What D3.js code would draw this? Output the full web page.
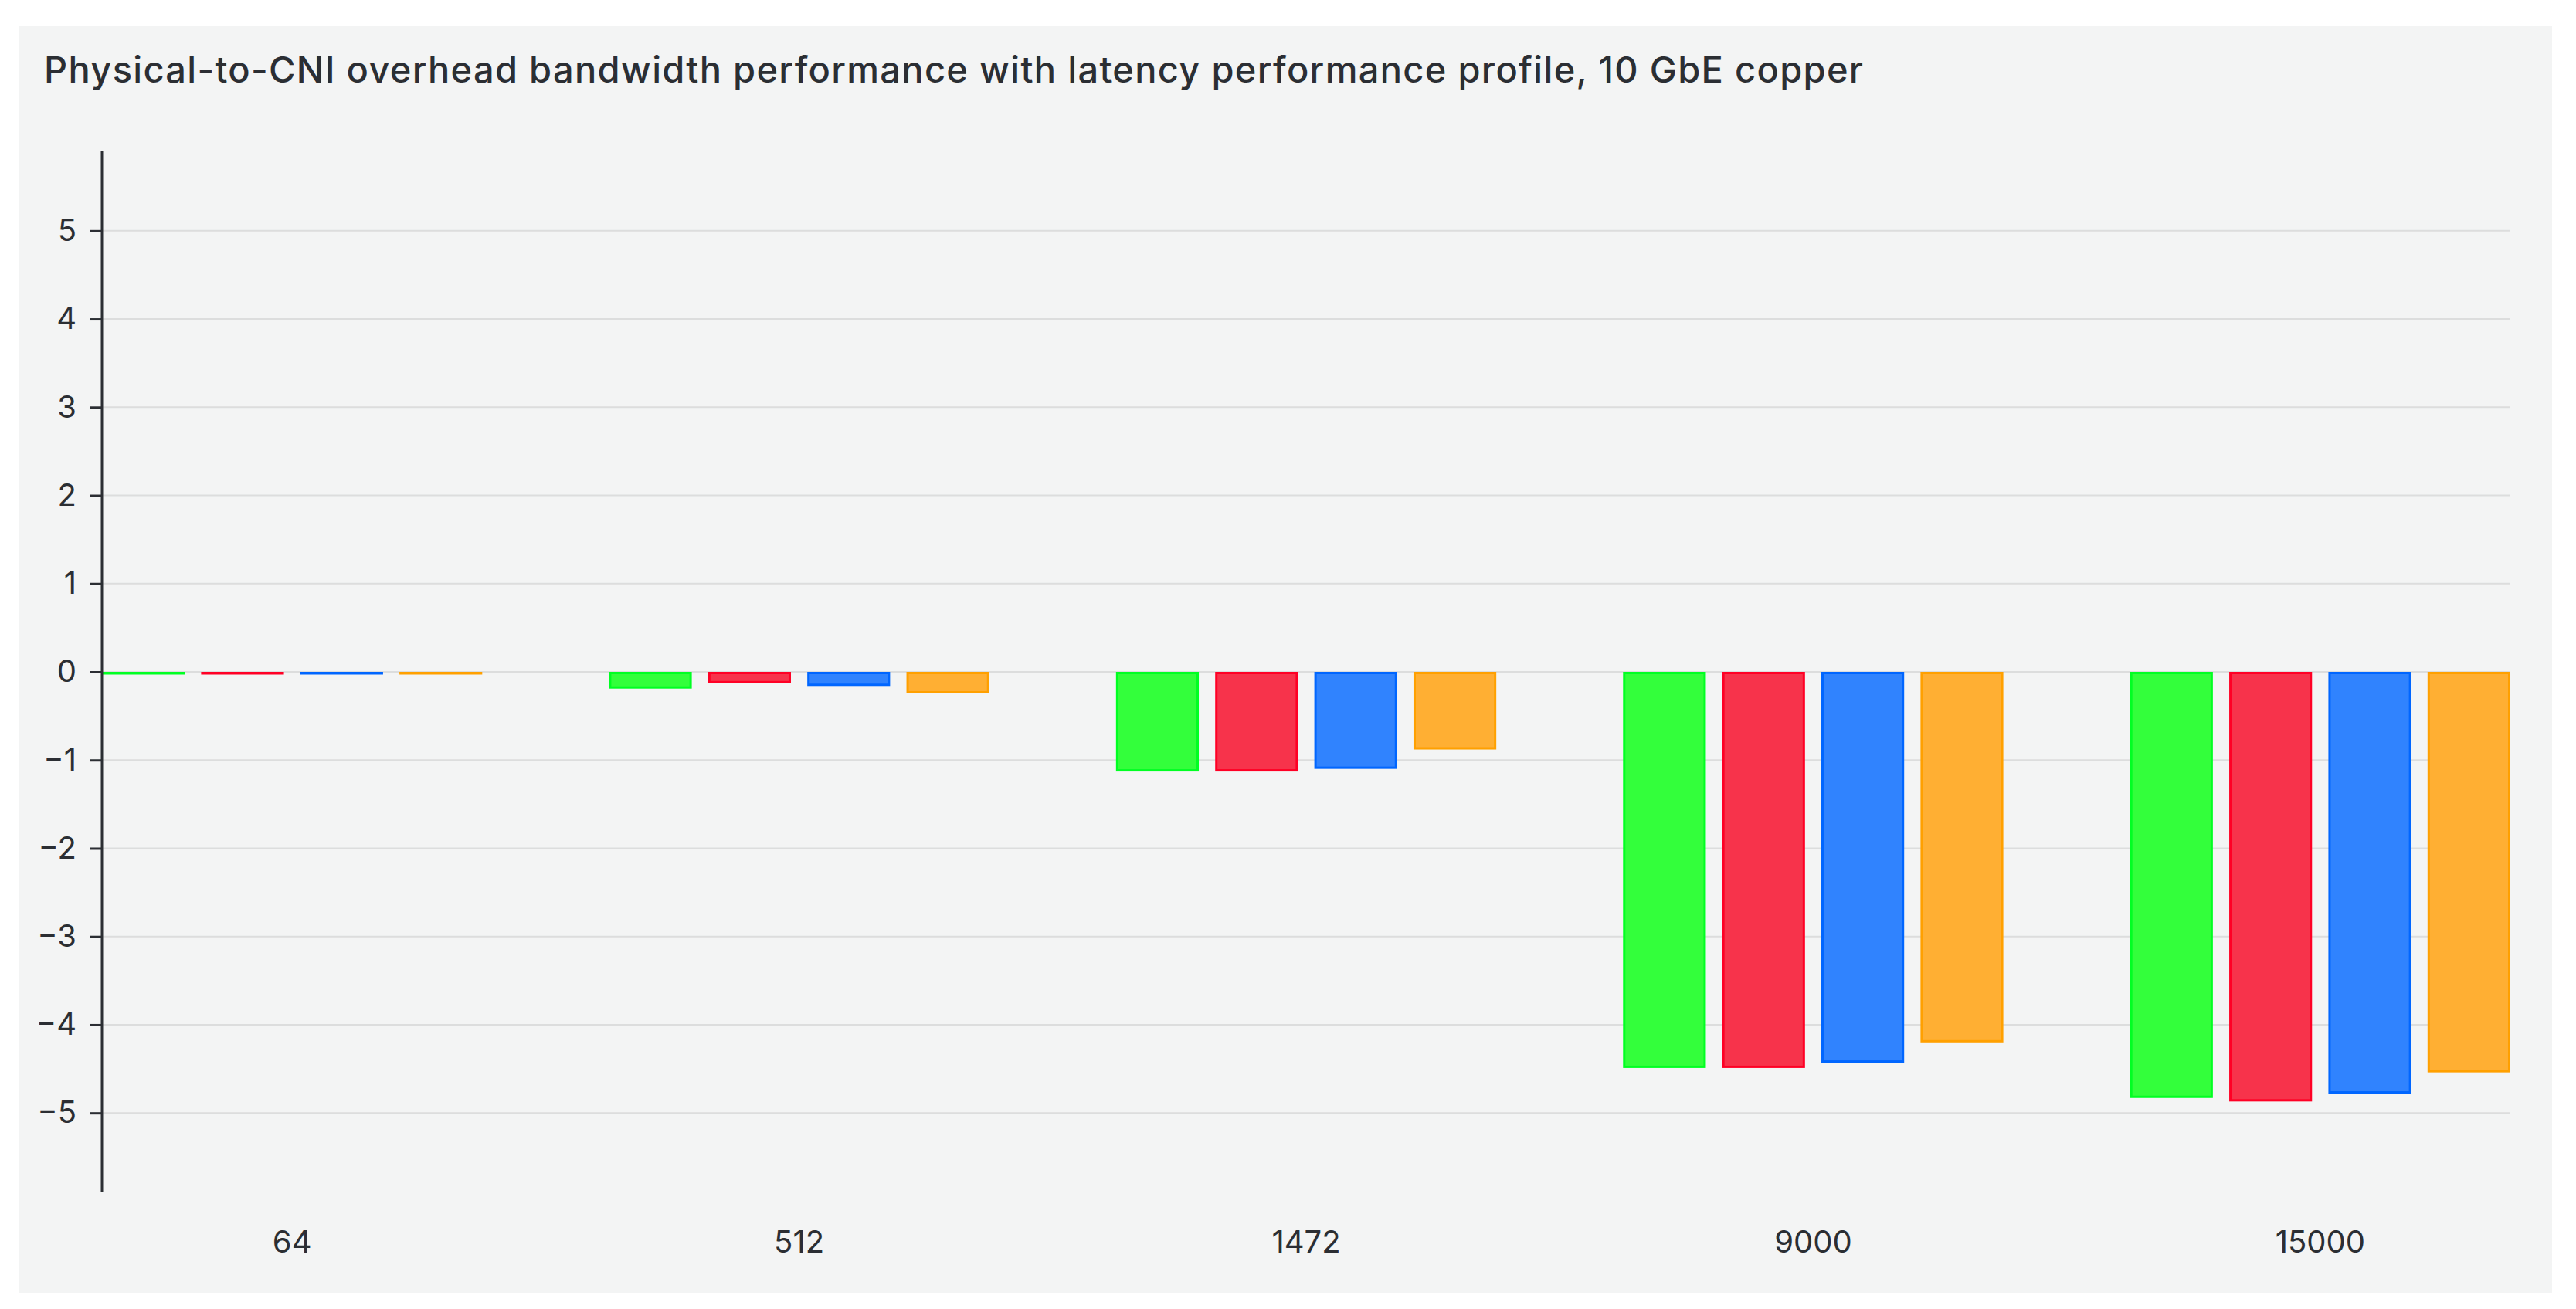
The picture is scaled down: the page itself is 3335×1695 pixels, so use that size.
<!DOCTYPE html>
<html>
<head>
<meta charset="utf-8">
<script src="https://cdn.jsdelivr.net/npm/d3@7"></script>
<style>
html, body { margin: 0; padding: 0; background: #ffffff; }
svg { display: block; }
text { font-family: Inter, "Noto Sans", sans-serif; fill: #2b2e33; }
</style>
</head>
<body>
<svg id="chart" width="3335" height="1695"></svg>
<script>
const title = "Physical-to-CNI overhead bandwidth performance with latency performance profile, 10 GbE copper";
const categories = ["64", "512", "1472", "9000", "15000"];
const seriesNames = ["s1", "s2", "s3", "s4"];
const series1 = [-0.01, -0.19, -1.13, -4.49, -4.83];
const series2 = [-0.01, -0.13, -1.13, -4.49, -4.87];
const series3 = [-0.01, -0.16, -1.10, -4.43, -4.78];
const series4 = [-0.01, -0.245, -0.88, -4.20, -4.54];
const yTicks = [-5, -4, -3, -2, -1, 0, 1, 2, 3, 4, 5];
const fills = ["#33ff3b", "#f7334b", "#3083fe", "#ffaf33"];
const strokes = ["#00ff22", "#ff0025", "#0066ff", "#ffa000"];

(function () {
const allSeries = [series1, series2, series3, series4];
const svg = d3.select("#chart");

// panel
svg.append("rect").attr("x", 25).attr("y", 34).attr("width", 3279).attr("height", 1640).attr("fill", "#f3f4f4");

const pl = 132, pr = 3250, pt = 196, pb = 1544;
const y = d3.scaleLinear().domain([-5.9, 5.9]).range([pb, pt]);
const x0 = d3.scaleBand().domain(categories).range([pl, pr]).paddingInner(0.25).paddingOuter(0);
const x1 = d3.scaleBand().domain(seriesNames).range([0, x0.bandwidth()]).paddingInner(0.165).paddingOuter(0);

// grid
svg.append("g").selectAll("line").data(yTicks).join("line")
  .attr("x1", pl).attr("x2", pr)
  .attr("y1", d => y(d)).attr("y2", d => y(d))
  .attr("stroke", "#dcdddd").attr("stroke-width", 2);

// bars
const groups = svg.append("g").selectAll("g").data(categories).join("g")
  .attr("transform", d => `translate(${x0(d)},0)`);
groups.selectAll("rect").data((c, i) => allSeries.map((s, k) => ({k, v: s[i]}))).join("rect")
  .attr("x", d => x1(seriesNames[d.k]) + 1.5)
  .attr("width", x1.bandwidth() - 3)
  .attr("y", d => Math.min(y(0), y(d.v)) + 1.5)
  .attr("height", d => Math.max(0.5, Math.abs(y(d.v) - y(0)) - 3))
  .attr("fill", d => fills[d.k])
  .attr("stroke", d => strokes[d.k])
  .attr("stroke-width", 3);

// y axis
const yAxis = d3.axisLeft(y).tickValues(yTicks).tickSize(15).tickPadding(18).tickFormat(d3.format("d"));
const ya = svg.append("g").attr("transform", `translate(${pl},0)`).call(yAxis);
ya.select(".domain").attr("stroke", "#2b2e33").attr("stroke-width", 3).attr("d", `M0,${pt}V${pb}`);
ya.selectAll(".tick line").attr("stroke", "#2b2e33").attr("stroke-width", 3);
ya.selectAll(".tick text").attr("font-size", 40).attr("font-family", "Inter, sans-serif").attr("fill", "#2b2e33");

// x axis labels
const xAxis = d3.axisBottom(x0).tickSize(0).tickPadding(0);
const xa = svg.append("g").attr("transform", `translate(0,1594)`).call(xAxis);
xa.select(".domain").remove();
xa.selectAll(".tick text").attr("font-size", 40).attr("font-family", "Inter, sans-serif").attr("fill", "#2b2e33").attr("dy", "0.71em");

// title
const t = svg.append("text").attr("x", 57).attr("y", 107).attr("font-size", 47).attr("font-weight", 500).text(title);
const w = t.node().getComputedTextLength();
const target = 2355;
t.attr("letter-spacing", ((target - w) / (title.length - 1)).toFixed(3));
})();
</script>
</body>
</html>
